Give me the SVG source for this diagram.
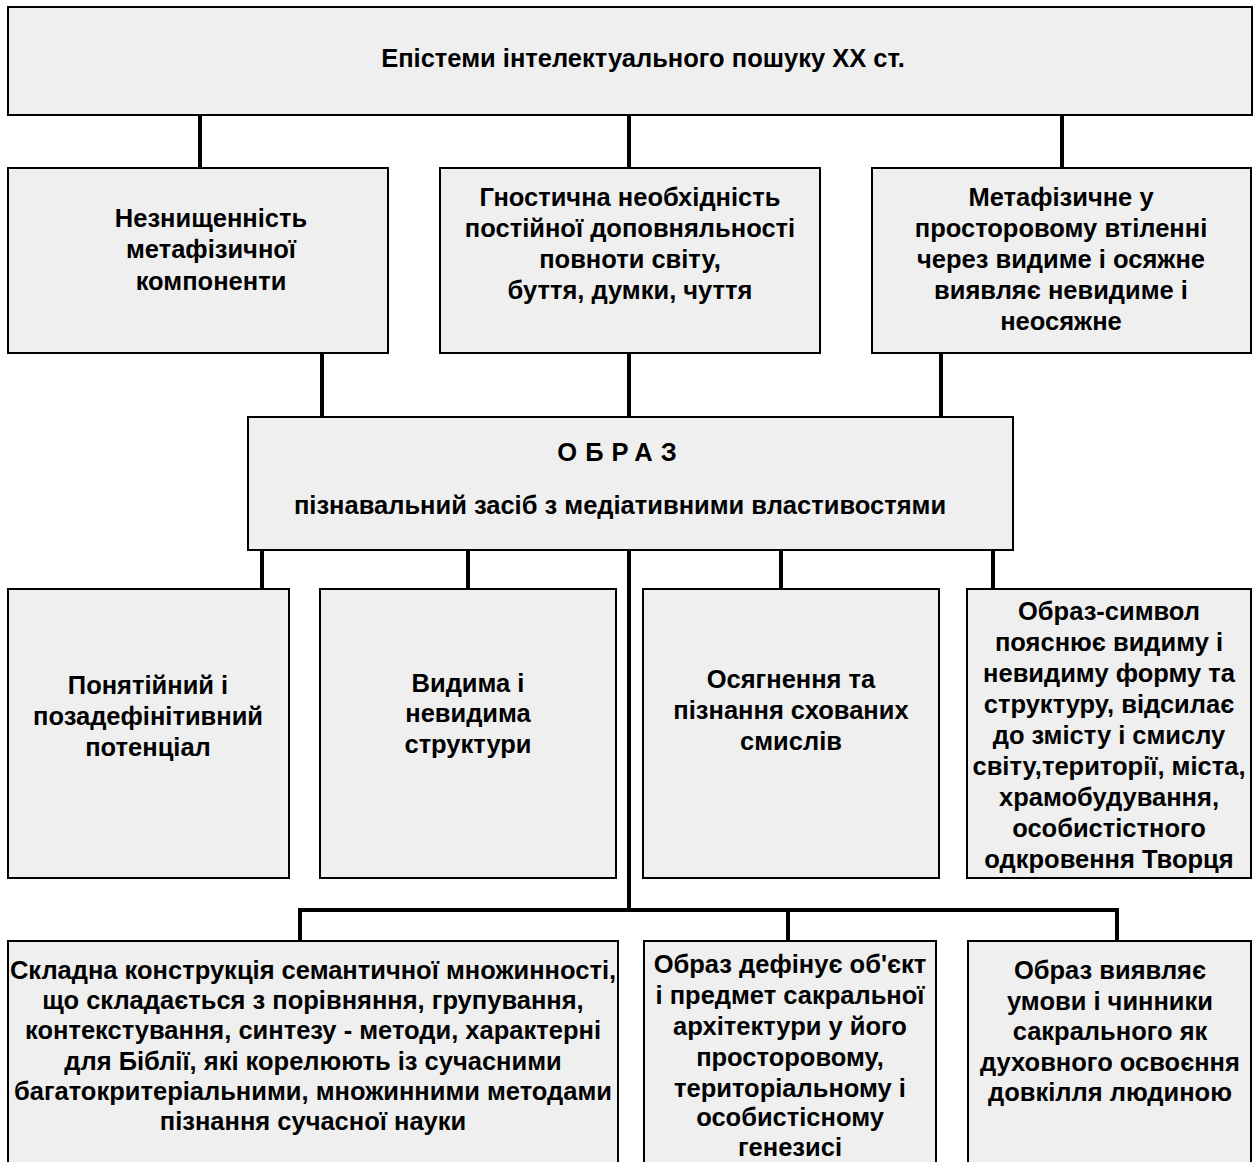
<svg xmlns="http://www.w3.org/2000/svg" width="1253" height="1162" viewBox="0 0 1253 1162">
<style>
.box{fill:#efefef;stroke:#000;stroke-width:2}
.t{font-family:"Liberation Sans",Arial,sans-serif;font-weight:bold;font-size:25.5px;fill:#000;text-anchor:middle}
.c{stroke:#000;stroke-width:4;fill:none}
</style>
<rect width="1253" height="1162" fill="#fff"/>
<g id="connectors">
<line class="c" x1="200" y1="115" x2="200" y2="168"/>
<line class="c" x1="629" y1="115" x2="629" y2="168"/>
<line class="c" x1="1062" y1="115" x2="1062" y2="168"/>
<line class="c" x1="322" y1="353" x2="322" y2="417"/>
<line class="c" x1="629" y1="353" x2="629" y2="417"/>
<line class="c" x1="941" y1="353" x2="941" y2="417"/>
<line class="c" x1="262" y1="550" x2="262" y2="589"/>
<line class="c" x1="468" y1="550" x2="468" y2="589"/>
<line class="c" x1="781" y1="550" x2="781" y2="589"/>
<line class="c" x1="993" y1="550" x2="993" y2="589"/>
<line class="c" x1="629" y1="550" x2="629" y2="910"/>
<polyline class="c" points="300,941 300,910 1117,910 1117,941"/>
<line class="c" x1="788" y1="910" x2="788" y2="941"/>
</g>
<g id="n-top">
<rect class="box" x="8" y="7" width="1244" height="108"/>
<text class="t" x="643" y="67">Епістеми інтелектуального пошуку ХХ ст.</text>
</g>
<g id="n-a1">
<rect class="box" x="8" y="168" width="380" height="185"/>
<text class="t" x="211" y="227">Незнищенність</text>
<text class="t" x="211" y="258">метафізичної</text>
<text class="t" x="211" y="290">компоненти</text>
</g>
<g id="n-a2">
<rect class="box" x="440" y="168" width="380" height="185"/>
<text class="t" x="630" y="206">Гностична необхідність</text>
<text class="t" x="630" y="237">постійної доповняльності</text>
<text class="t" x="630" y="268">повноти світу,</text>
<text class="t" x="630" y="299">буття, думки, чуття</text>
</g>
<g id="n-a3">
<rect class="box" x="872" y="168" width="379" height="185"/>
<text class="t" x="1061" y="206">Метафізичне у</text>
<text class="t" x="1061" y="237">просторовому втіленні</text>
<text class="t" x="1061" y="268">через видиме і осяжне</text>
<text class="t" x="1061" y="299">виявляє невидиме і</text>
<text class="t" x="1061" y="330">неосяжне</text>
</g>
<g id="n-obraz">
<rect class="box" x="248" y="417" width="765" height="133"/>
<text class="t" x="621" y="461" style="letter-spacing:8px">ОБРАЗ</text>
<text class="t" x="620" y="514">пізнавальний засіб з медіативними властивостями</text>
</g>
<g id="n-b1">
<rect class="box" x="8" y="589" width="281" height="289"/>
<text class="t" x="148" y="694">Понятійний і</text>
<text class="t" x="148" y="725">позадефінітивний</text>
<text class="t" x="148" y="756">потенціал</text>
</g>
<g id="n-b2">
<rect class="box" x="320" y="589" width="296" height="289"/>
<text class="t" x="468" y="692">Видима і</text>
<text class="t" x="468" y="722">невидима</text>
<text class="t" x="468" y="753">структури</text>
</g>
<g id="n-b3">
<rect class="box" x="643" y="589" width="296" height="289"/>
<text class="t" x="791" y="688">Осягнення та</text>
<text class="t" x="791" y="719">пізнання схованих</text>
<text class="t" x="791" y="750">смислів</text>
</g>
<g id="n-b4">
<rect class="box" x="967" y="589" width="284" height="289"/>
<text class="t" x="1109" y="620">Образ-символ</text>
<text class="t" x="1109" y="651">пояснює видиму і</text>
<text class="t" x="1109" y="682">невидиму форму та</text>
<text class="t" x="1109" y="713">структуру, відсилає</text>
<text class="t" x="1109" y="744">до змісту і смислу</text>
<text class="t" x="1109" y="775">світу,території, міста,</text>
<text class="t" x="1109" y="806">храмобудування,</text>
<text class="t" x="1109" y="837">особистістного</text>
<text class="t" x="1109" y="868">одкровення Творця</text>
</g>
<g id="n-c1">
<rect class="box" x="8" y="941" width="610" height="235"/>
<text class="t" x="313" y="979">Складна конструкція семантичної множинності,</text>
<text class="t" x="313" y="1009">що складається з порівняння, групування,</text>
<text class="t" x="313" y="1039">контекстування, синтезу - методи, характерні</text>
<text class="t" x="313" y="1070">для Біблії, які корелюють із сучасними</text>
<text class="t" x="313" y="1100">багатокритеріальними, множинними методами</text>
<text class="t" x="313" y="1130">пізнання сучасної науки</text>
</g>
<g id="n-c2">
<rect class="box" x="644" y="941" width="292" height="235"/>
<text class="t" x="790" y="973">Образ дефінує об'єкт</text>
<text class="t" x="790" y="1004">і предмет сакральної</text>
<text class="t" x="790" y="1035">архітектури у його</text>
<text class="t" x="790" y="1066">просторовому,</text>
<text class="t" x="790" y="1097">територіальному і</text>
<text class="t" x="790" y="1126">особистісному</text>
<text class="t" x="790" y="1156">генезисі</text>
</g>
<g id="n-c3">
<rect class="box" x="968" y="941" width="283" height="235"/>
<text class="t" x="1110" y="979">Образ виявляє</text>
<text class="t" x="1110" y="1010">умови і чинники</text>
<text class="t" x="1110" y="1040">сакрального як</text>
<text class="t" x="1110" y="1071">духовного освоєння</text>
<text class="t" x="1110" y="1101">довкілля людиною</text>
</g>
</svg>
